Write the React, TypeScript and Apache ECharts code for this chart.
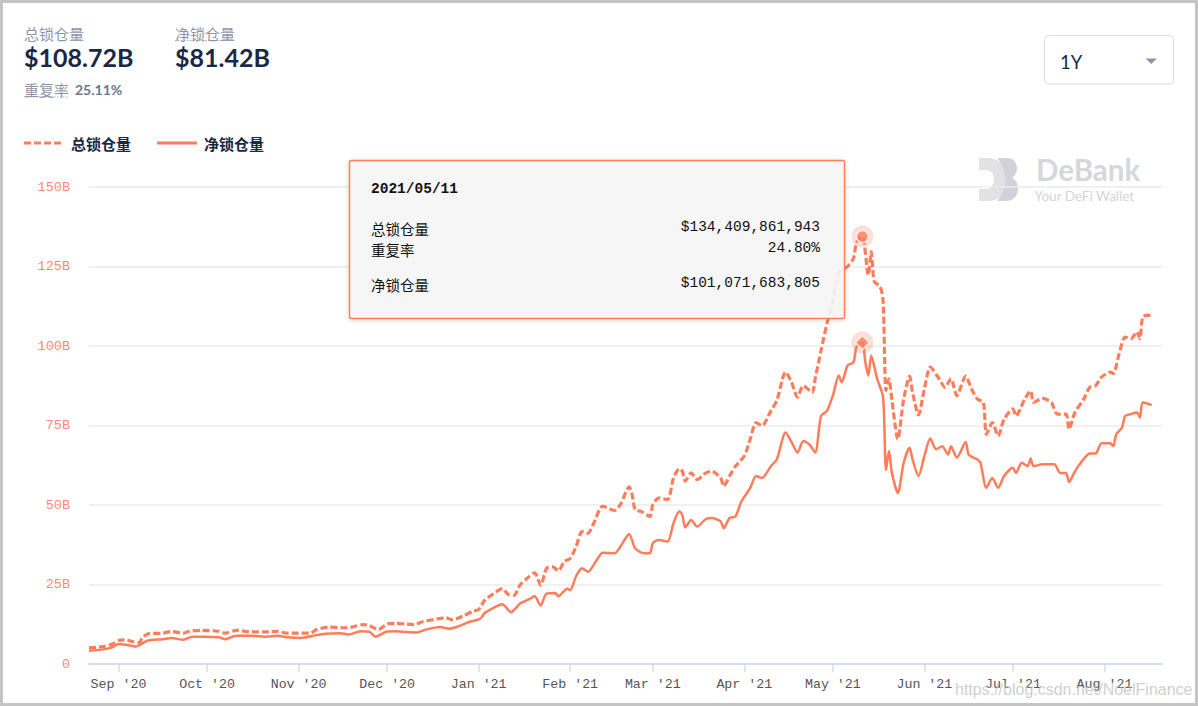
import React, { useEffect, useRef } from "react";
import * as echarts from "echarts";

const totalDates = [
  "2020-08-22","2020-08-27","2020-08-30","2020-09-01","2020-09-03","2020-09-06","2020-09-08","2020-09-09","2020-09-11","2020-09-16",
  "2020-09-19","2020-09-23","2020-09-25","2020-09-29","2020-10-05","2020-10-07","2020-10-11","2020-10-16","2020-10-22","2020-10-25",
  "2020-10-28","2020-11-01","2020-11-05","2020-11-07","2020-11-11","2020-11-16","2020-11-19","2020-11-23","2020-11-25","2020-11-28",
  "2020-12-01","2020-12-04","2020-12-07","2020-12-10","2020-12-13","2020-12-18","2020-12-21","2020-12-23","2020-12-27","2020-12-30",
  "2021-01-01","2021-01-03","2021-01-06","2021-01-09","2021-01-11","2021-01-13","2021-01-15","2021-01-18","2021-01-20","2021-01-22",
  "2021-01-24","2021-01-26","2021-01-28","2021-01-30","2021-02-01","2021-02-03","2021-02-05","2021-02-07","2021-02-09","2021-02-12",
  "2021-02-16","2021-02-18","2021-02-21","2021-02-22","2021-02-23","2021-02-25","2021-02-28","2021-03-01","2021-03-03","2021-03-06",
  "2021-03-08","2021-03-10","2021-03-11","2021-03-12","2021-03-14","2021-03-16","2021-03-19","2021-03-21","2021-03-24","2021-03-25",
  "2021-03-27","2021-03-29","2021-04-01","2021-04-03","2021-04-05","2021-04-07","2021-04-10","2021-04-12","2021-04-15","2021-04-17",
  "2021-04-19","2021-04-21","2021-04-24","2021-04-25","2021-04-27","2021-04-29","2021-05-01","2021-05-03","2021-05-06","2021-05-08",
  "2021-05-09","2021-05-11","2021-05-13","2021-05-14","2021-05-15","2021-05-17","2021-05-18","2021-05-19","2021-05-20","2021-05-21",
  "2021-05-23","2021-05-25","2021-05-27","2021-05-28","2021-05-30","2021-06-01","2021-06-03","2021-06-06","2021-06-08","2021-06-10",
  "2021-06-12","2021-06-15","2021-06-17","2021-06-19","2021-06-21","2021-06-22","2021-06-24","2021-06-26","2021-06-28","2021-07-01",
  "2021-07-02","2021-07-05","2021-07-07","2021-07-08","2021-07-11","2021-07-14","2021-07-16","2021-07-19","2021-07-20","2021-07-22",
  "2021-07-25","2021-07-27","2021-07-29","2021-07-31","2021-08-03","2021-08-04","2021-08-06","2021-08-08","2021-08-10","2021-08-12",
  "2021-08-13","2021-08-14","2021-08-16","2021-08-17",
];
const totalValues = [
  5.1, 5.5, 6.3, 7.4, 7.6, 7.0, 6.7, 8.1, 9.5, 9.7,
  10.2, 9.7, 10.3, 10.6, 10.3, 9.7, 10.6, 10.1, 10.1, 10.3,
  9.7, 9.7, 9.7, 10.8, 11.6, 11.4, 11.6, 12.4, 12.1, 10.8,
  12.6, 12.8, 12.6, 12.4, 13.3, 14.2, 14.5, 13.9, 15.2, 16.6,
  17.1, 20.0, 22.1, 23.7, 21.9, 21.6, 24.8, 27.4, 28.7, 24.8,
  30.1, 30.6, 29.3, 32.2, 33.2, 36.9, 41.6, 41.1, 44.3, 49.6,
  48.3, 50.1, 55.7, 53.3, 48.5, 48.0, 46.4, 50.1, 52.2, 51.7,
  58.5, 61.4, 60.6, 57.5, 60.1, 58.0, 60.1, 60.6, 58.5, 55.9,
  59.1, 62.2, 65.4, 70.7, 75.9, 74.9, 79.6, 82.8, 91.8, 88.6,
  83.9, 87.5, 85.4, 89.7, 98.6, 107.1, 113.9, 122.9, 125.0, 127.6,
  132.5, 134.41, 122.3, 129.7, 120.3, 118.7, 114.5, 86.0, 89.7, 83.0,
  70.7, 83.3, 90.5, 85.4, 78.3, 86.5, 93.4, 89.7, 87.0, 89.7,
  84.4, 90.5, 86.5, 83.3, 82.3, 72.2, 75.9, 71.7, 77.0, 80.2,
  78.0, 83.3, 85.9, 82.3, 83.5, 82.3, 78.6, 78.6, 73.8, 79.1,
  83.3, 87.0, 87.5, 90.2, 91.8, 91.3, 97.6, 102.8, 102.3, 104.4,
  102.3, 109.2, 109.7, 108.72,
];

const netDates = [
  "2020-08-22","2020-08-27","2020-08-30","2020-09-01","2020-09-03","2020-09-07","2020-09-08","2020-09-11","2020-09-16","2020-09-19",
  "2020-09-23","2020-09-26","2020-09-30","2020-10-05","2020-10-07","2020-10-11","2020-10-16","2020-10-21","2020-10-25","2020-10-28",
  "2020-11-02","2020-11-06","2020-11-10","2020-11-15","2020-11-18","2020-11-22","2020-11-25","2020-11-27","2020-12-01","2020-12-04",
  "2020-12-07","2020-12-11","2020-12-14","2020-12-19","2020-12-22","2020-12-25","2020-12-29","2021-01-01","2021-01-02","2021-01-03",
  "2021-01-07","2021-01-09","2021-01-12","2021-01-15","2021-01-18","2021-01-20","2021-01-22","2021-01-24","2021-01-27","2021-01-28",
  "2021-01-31","2021-02-01","2021-02-03","2021-02-05","2021-02-07","2021-02-10","2021-02-12","2021-02-16","2021-02-18","2021-02-21",
  "2021-02-23","2021-02-26","2021-02-28","2021-03-01","2021-03-03","2021-03-06","2021-03-08","2021-03-10","2021-03-11","2021-03-12",
  "2021-03-14","2021-03-16","2021-03-19","2021-03-21","2021-03-24","2021-03-25","2021-03-27","2021-03-29","2021-03-31","2021-04-03",
  "2021-04-05","2021-04-07","2021-04-10","2021-04-12","2021-04-15","2021-04-17","2021-04-19","2021-04-21","2021-04-23","2021-04-25",
  "2021-04-27","2021-04-29","2021-05-01","2021-05-03","2021-05-04","2021-05-06","2021-05-08","2021-05-09","2021-05-11","2021-05-12",
  "2021-05-13","2021-05-14","2021-05-16","2021-05-18","2021-05-19","2021-05-20","2021-05-21","2021-05-23","2021-05-25","2021-05-27",
  "2021-05-28","2021-05-30","2021-06-01","2021-06-03","2021-06-05","2021-06-07","2021-06-09","2021-06-10","2021-06-12","2021-06-15",
  "2021-06-16","2021-06-19","2021-06-20","2021-06-22","2021-06-24","2021-06-26","2021-06-28","2021-07-01","2021-07-02","2021-07-04",
  "2021-07-06","2021-07-07","2021-07-08","2021-07-11","2021-07-15","2021-07-17","2021-07-19","2021-07-20","2021-07-22","2021-07-24",
  "2021-07-27","2021-07-29","2021-07-31","2021-08-03","2021-08-04","2021-08-05","2021-08-07","2021-08-08","2021-08-10","2021-08-12",
  "2021-08-13","2021-08-14","2021-08-17",
];
const netValues = [
  4.2, 4.6, 5.3, 6.3, 6.1, 5.5, 5.9, 7.4, 7.8, 8.2,
  7.6, 8.6, 8.6, 8.4, 7.8, 8.9, 8.9, 8.6, 8.9, 8.4,
  8.2, 8.9, 9.5, 9.7, 9.3, 10.3, 10.1, 8.6, 10.2, 10.3,
  10.1, 9.9, 10.8, 11.6, 11.1, 11.8, 13.3, 14.0, 14.7, 16.0,
  18.1, 18.8, 16.3, 19.0, 20.3, 21.3, 18.4, 22.1, 22.3, 21.3,
  23.7, 23.2, 27.6, 30.1, 29.0, 32.7, 35.0, 34.8, 36.9, 40.9,
  36.4, 34.8, 34.8, 38.0, 39.0, 38.5, 44.3, 48.0, 46.9, 43.0,
  45.3, 43.2, 45.6, 45.9, 44.8, 42.7, 45.9, 46.4, 51.1, 55.4,
  59.1, 58.5, 62.2, 64.3, 72.8, 69.8, 66.5, 70.1, 69.1, 66.5,
  78.0, 79.6, 84.4, 90.7, 88.6, 93.9, 94.9, 99.7, 101.07, 94.9,
  90.7, 97.0, 89.7, 84.0, 61.0, 67.0, 60.1, 53.8, 63.3, 68.0,
  64.3, 59.1, 65.4, 70.9, 67.5, 68.5, 65.9, 68.5, 64.9, 69.8,
  65.9, 64.3, 63.3, 55.4, 58.5, 55.4, 59.1, 61.7, 60.1, 63.3,
  62.2, 64.6, 62.2, 62.8, 62.8, 60.1, 60.1, 57.2, 60.6, 63.3,
  66.2, 66.2, 69.4, 69.4, 68.5, 72.2, 74.4, 78.0, 78.6, 79.1,
  77.5, 82.3, 81.42,
];

const monthTicks = [
  "2020-09-01","2020-10-01","2020-11-01","2020-12-01","2021-01-01","2021-02-01",
  "2021-03-01","2021-04-01","2021-05-01","2021-06-01","2021-07-01","2021-08-01",
];
const monthNames = ["Jan","Feb","Mar","Apr","May","Jun","Jul","Aug","Sep","Oct","Nov","Dec"];

const hoverDate = "2021/05/11";
const hoverKey = "2021-05-11";
const hoverTotal = 134409861943;
const hoverNet = 101071683805;
const hoverRate = "24.80%";

const headerTotal = "$108.72B";
const headerNet = "$81.42B";
const headerRate = "25.11%";

const LINE = "#ff7d5a";
const MONO = '"Liberation Mono", "Courier New", "Noto Sans CJK SC", monospace';
const CJK = '"Noto Sans CJK SC", Lato, sans-serif';

function ts(s: string) {
  const [y, m, d] = s.split("-").map(Number);
  return new Date(y, m - 1, d).getTime();
}
function fmtMoney(n: number) {
  return "$" + n.toString().replace(/\B(?=(\d{3})+(?!\d))/g, ",");
}

const logoLight =
  "M0 0 H9 C21 0 28 9.5 28 21.5 C28 33.5 21 43 9 43 H0 V31 H7 C12 31 15 27 15 21.5 C15 16 12 12 7 12 H0 Z";
const logoDark =
  "M18 0 H28 C34.5 0 38 4.5 38 10.5 C38 14.5 36 17.8 33 19.8 C36.8 21.8 39 25.5 39 30.5 C39 38 34.5 43 27.5 43 H18 C23 37.5 26 30 26 21.5 C26 13 23 5.5 18 0 Z";

function txt(x: number, y: number, text: string, font: string, fill: string, align = "left", z = 10) {
  return {
    type: "text",
    x,
    y,
    z,
    silent: true,
    style: { text, font, fill, align, verticalAlign: "middle", textAlign: align, textVerticalAlign: "middle" },
  };
}

export default function App() {
  const ref = useRef<HTMLDivElement>(null);
  useEffect(() => {
    if (!ref.current) return;
    try {
      echarts.graphic.registerShape("logoLight", echarts.graphic.extendPath(logoLight, {}));
      echarts.graphic.registerShape("logoDark", echarts.graphic.extendPath(logoDark, {}));
    } catch (e) {}
    const chart = echarts.init(ref.current, null, { renderer: "svg" });
    const totalData = totalDates.map((d, i) => [ts(d), totalValues[i]]);
    const netData = netDates.map((d, i) => [ts(d), netValues[i]]);
    const hx = ts(hoverKey);
    const tickVals = monthTicks.map(ts);

    const graphic: any[] = [
      { type: "rect", z: 50, silent: true, shape: { x: 1.5, y: 1.5, width: 1195, height: 703 }, style: { fill: "none", stroke: "#c4c4c4", lineWidth: 3 } },
      txt(24, 33, "总锁仓量", "15px " + CJK, "#8d96a8"),
      txt(24, 57, headerTotal, "bold 25px Lato", "#1b2845"),
      txt(175, 33, "净锁仓量", "15px " + CJK, "#8d96a8"),
      { type: "line", silent: true, shape: { x1: 175, y1: 40.5, x2: 235, y2: 40.5 }, style: { stroke: "#a3abbb", lineWidth: 1, lineDash: [1.5, 1.5] } },
      txt(175, 57, headerNet, "bold 25px Lato", "#1b2845"),
      txt(24, 89, "重复率", "15px " + CJK, "#8d96a8"),
      { type: "line", silent: true, shape: { x1: 24, y1: 97, x2: 69, y2: 97 }, style: { stroke: "#a3abbb", lineWidth: 1, lineDash: [1.5, 1.5] } },
      txt(75, 89, headerRate, "bold 14px Lato", "#6f7889"),
      { type: "rect", silent: true, shape: { x: 1044.5, y: 35.5, width: 129, height: 48.5, r: 4 }, style: { fill: "#fff", stroke: "#dadce2", lineWidth: 1 } },
      txt(1060, 61.5, "1Y", "18.5px Lato", "#1b2845"),
      { type: "polygon", silent: true, shape: { points: [[1145.5, 58.5], [1157, 58.5], [1151.25, 64]] }, style: { fill: "#8f95a8" } },
      { type: "line", silent: true, shape: { x1: 24, y1: 143, x2: 62, y2: 143 }, style: { stroke: LINE, lineWidth: 3, lineDash: [7, 3] } },
      txt(71, 143, "总锁仓量", "bold 15px " + CJK, "#1b2845"),
      { type: "line", silent: true, shape: { x1: 157, y1: 143, x2: 197, y2: 143 }, style: { stroke: LINE, lineWidth: 3 } },
      txt(204, 143, "净锁仓量", "bold 15px " + CJK, "#1b2845"),
      { type: "logoLight", silent: true, z: -1, x: 979, y: 158, scaleX: 1, scaleY: 1, style: { fill: "#e2e2e6" } },
      { type: "logoDark", silent: true, z: -1, x: 979, y: 158, scaleX: 1, scaleY: 1, style: { fill: "#d2d3d8" } },
      txt(1036, 169.5, "DeBank", "bold 29.5px Lato", "#d6d7dc", "left", -1),
      txt(1034.5, 195.5, "Your DeFi Wallet", "13.5px Lato", "#d2d3d8", "left", -1),
      {
        type: "rect", z: 100, silent: true,
        shape: { x: 349.5, y: 160.5, width: 495, height: 158, r: 2 },
        style: { fill: "rgba(247,247,247,0.9)", stroke: LINE, lineWidth: 1.5, shadowBlur: 5, shadowColor: "rgba(0,0,0,0.18)", shadowOffsetY: 1 },
      },
      txt(371, 189, hoverDate, "bold 14.5px " + MONO, "#111", "left", 101),
      txt(371, 228, "总锁仓量", "14.5px " + CJK, "#111", "left", 101),
      txt(820, 227, fmtMoney(hoverTotal), "14.5px " + MONO, "#111", "right", 101),
      txt(371, 249, "重复率", "14.5px " + CJK, "#111", "left", 101),
      txt(820, 248, hoverRate, "14.5px " + MONO, "#111", "right", 101),
      txt(371, 284, "净锁仓量", "14.5px " + CJK, "#111", "left", 101),
      txt(820, 283, fmtMoney(hoverNet), "14.5px " + MONO, "#111", "right", 101),
      txt(955, 689, "https://blog.csdn.net/NoelFinance", "16px 'Liberation Sans', Arial, sans-serif", "rgba(190,190,190,0.75)", "left", 60),
    ];

    chart.setOption({
      animation: false,
      backgroundColor: "#fff",
      grid: { left: 89, right: 36, top: 187, bottom: 42 },
      xAxis: {
        type: "value",
        min: ts("2020-08-22"),
        max: ts("2021-08-20") + 12 * 3600 * 1000,
        axisLine: { show: true, onZero: false, lineStyle: { color: "#d3dbf0", width: 2 } },
        axisTick: { show: true, length: 8, lineStyle: { color: "#d3dbf0", width: 1.5 }, customValues: tickVals },
        axisLabel: {
          customValues: tickVals,
          color: "#555",
          fontFamily: MONO,
          fontSize: 13.3,
          margin: 14,
          formatter: (v: number) => {
            const d = new Date(v);
            return monthNames[d.getMonth()] + " '" + String(d.getFullYear()).slice(2);
          },
        },
        splitLine: { show: false },
      },
      yAxis: {
        type: "value",
        min: 0,
        max: 150,
        interval: 25,
        axisLine: { show: false },
        axisTick: { show: false },
        axisLabel: {
          color: "#ff8a74",
          fontFamily: MONO,
          fontSize: 13.5,
          margin: 19,
          formatter: (v: number) => (v === 0 ? "0" : v + "B"),
        },
        splitLine: { lineStyle: { color: "#ebebeb", width: 1.5 } },
      },
      series: [
        {
          name: "总锁仓量",
          type: "line",
          data: totalData,
          showSymbol: false,
          symbol: "none",
          smooth: 0.25,
          lineStyle: { color: LINE, width: 3.2, type: [7, 3] },
          itemStyle: { color: LINE },
          z: 3,
        },
        {
          name: "净锁仓量",
          type: "line",
          data: netData,
          showSymbol: false,
          symbol: "none",
          smooth: 0.25,
          lineStyle: { color: LINE, width: 2.5 },
          itemStyle: { color: LINE },
          z: 3,
        },
        {
          type: "scatter",
          silent: true,
          symbol: "circle",
          symbolSize: 22,
          itemStyle: { color: "rgba(255,125,90,0.32)" },
          data: [[hx, hoverTotal / 1e9], [hx, hoverNet / 1e9]],
          z: 4,
        },
        {
          type: "scatter",
          silent: true,
          symbol: "circle",
          symbolSize: 12,
          itemStyle: { color: LINE, borderColor: "#fff", borderWidth: 1.5 },
          data: [[hx, hoverTotal / 1e9]],
          z: 5,
        },
        {
          type: "scatter",
          silent: true,
          symbol: "diamond",
          symbolSize: 14,
          itemStyle: { color: LINE, borderColor: "#fff", borderWidth: 1.5 },
          data: [[hx, hoverNet / 1e9]],
          z: 5,
        },
      ],
      graphic,
    });
    return () => chart.dispose();
  }, []);
  return (
    <div
      ref={ref}
      style={{ position: "fixed", left: 0, top: 0, width: 1198, height: 706, background: "#fff" }}
    />
  );
}
